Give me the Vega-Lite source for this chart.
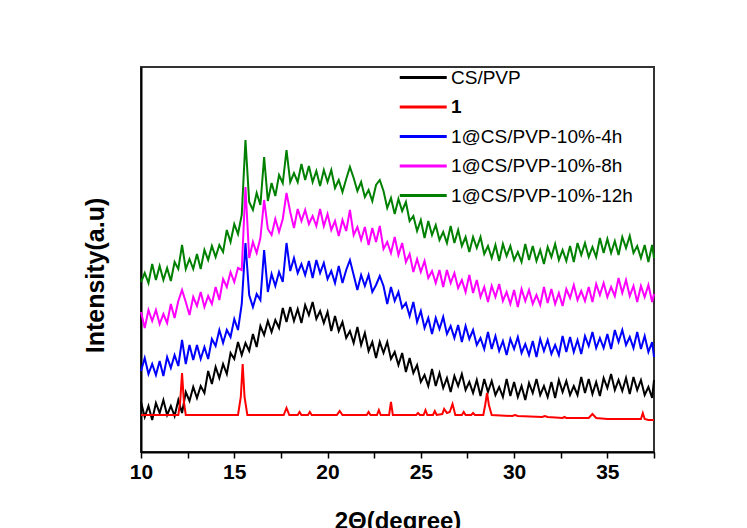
{
  "$schema": "https://vega.github.io/schema/vega-lite/v6.json",
  "width": 513,
  "height": 385,
  "autosize": "none",
  "padding": {"left": 141, "top": 67, "right": 93, "bottom": 76},
  "background": "white",
  "config": {"font": "Liberation Sans", "view": {"stroke": "#333333", "strokeWidth": 2}},
  "datasets": {
    "noisy": [
      {"x":10,"k":50,"b":81,"m":140,"g":170},
      {"x":10.2,"k":35,"b":94,"m":124,"g":179},
      {"x":10.4,"k":46,"b":78,"m":142,"g":169},
      {"x":10.6,"k":32,"b":88,"m":131,"g":188},
      {"x":10.8,"k":49,"b":77,"m":142,"g":172},
      {"x":11,"k":39,"b":91,"m":128,"g":186},
      {"x":11.2,"k":52,"b":76,"m":138,"g":172},
      {"x":11.4,"k":37,"b":95,"m":129,"g":184},
      {"x":11.6,"k":46,"b":84,"m":148,"g":171},
      {"x":11.8,"k":36,"b":97,"m":134,"g":190},
      {"x":12,"k":52,"b":86,"m":151,"g":183},
      {"x":12.2,"k":39,"b":112,"m":162,"g":207},
      {"x":12.4,"k":60,"b":88,"m":150,"g":183},
      {"x":12.6,"k":51,"b":107,"m":137,"g":193},
      {"x":12.8,"k":65,"b":92,"m":155,"g":183},
      {"x":13,"k":54,"b":107,"m":146,"g":198},
      {"x":13.2,"k":66,"b":93,"m":160,"g":183},
      {"x":13.4,"k":59,"b":105,"m":145,"g":202},
      {"x":13.6,"k":81,"b":93,"m":156,"g":192},
      {"x":13.8,"k":68,"b":113,"m":148,"g":206},
      {"x":14,"k":85,"b":106,"m":165,"g":195},
      {"x":14.2,"k":74,"b":122,"m":152,"g":207},
      {"x":14.4,"k":88,"b":109,"m":173,"g":200},
      {"x":14.6,"k":78,"b":122,"m":165,"g":222},
      {"x":14.8,"k":99,"b":115,"m":180,"g":210},
      {"x":15,"k":93,"b":133,"m":170,"g":228},
      {"x":15.2,"k":110,"b":122,"m":184,"g":218},
      {"x":15.4,"k":97,"b":148,"m":182,"g":237},
      {"x":15.6,"k":109,"b":209,"m":265,"g":312},
      {"x":15.8,"k":101,"b":157,"m":194,"g":250},
      {"x":16,"k":118,"b":145,"m":210,"g":242},
      {"x":16.2,"k":105,"b":158,"m":199,"g":259},
      {"x":16.4,"k":126,"b":152,"m":214,"g":247},
      {"x":16.6,"k":117,"b":202,"m":252,"g":295},
      {"x":16.8,"k":131,"b":160,"m":223,"g":251},
      {"x":17,"k":120,"b":178,"m":217,"g":269},
      {"x":17.2,"k":132,"b":166,"m":233,"g":256},
      {"x":17.4,"k":124,"b":180,"m":220,"g":277},
      {"x":17.6,"k":144,"b":170,"m":233,"g":269},
      {"x":17.8,"k":130,"b":209,"m":259,"g":302},
      {"x":18,"k":145,"b":181,"m":240,"g":270},
      {"x":18.2,"k":131,"b":194,"m":224,"g":279},
      {"x":18.4,"k":143,"b":179,"m":243,"g":270},
      {"x":18.6,"k":129,"b":188,"m":231,"g":288},
      {"x":18.8,"k":147,"b":177,"m":242,"g":272},
      {"x":19,"k":137,"b":191,"m":228,"g":286},
      {"x":19.2,"k":150,"b":174,"m":236,"g":270},
      {"x":19.4,"k":133,"b":192,"m":226,"g":281},
      {"x":19.6,"k":141,"b":179,"m":243,"g":266},
      {"x":19.8,"k":129,"b":189,"m":226,"g":282},
      {"x":20,"k":140,"b":173,"m":238,"g":270},
      {"x":20.2,"k":121,"b":181,"m":222,"g":282},
      {"x":20.4,"k":136,"b":169,"m":231,"g":264},
      {"x":20.6,"k":121,"b":186,"m":216,"g":272},
      {"x":20.8,"k":130,"b":169,"m":232,"g":260},
      {"x":21,"k":114,"b":182,"m":221,"g":273},
      {"x":21.2,"k":121,"b":192,"m":242,"g":285},
      {"x":21.4,"k":109,"b":177,"m":217,"g":274},
      {"x":21.6,"k":125,"b":162,"m":225,"g":261},
      {"x":21.8,"k":107,"b":177,"m":212,"g":270},
      {"x":22,"k":119,"b":166,"m":225,"g":255},
      {"x":22.2,"k":101,"b":177,"m":207,"g":262},
      {"x":22.4,"k":110,"b":160,"m":224,"g":251},
      {"x":22.6,"k":94,"b":167,"m":210,"g":267},
      {"x":22.8,"k":110,"b":176,"m":226,"g":272},
      {"x":23,"k":99,"b":166,"m":203,"g":261},
      {"x":23.2,"k":110,"b":148,"m":210,"g":244},
      {"x":23.4,"k":93,"b":165,"m":199,"g":254},
      {"x":23.6,"k":100,"b":151,"m":215,"g":238},
      {"x":23.8,"k":87,"b":160,"m":197,"g":253},
      {"x":24,"k":99,"b":144,"m":209,"g":241},
      {"x":24.2,"k":80,"b":149,"m":190,"g":250},
      {"x":24.4,"k":94,"b":136,"m":198,"g":231},
      {"x":24.6,"k":79,"b":150,"m":180,"g":236},
      {"x":24.8,"k":87,"b":130,"m":193,"g":221},
      {"x":25,"k":70,"b":141,"m":180,"g":232},
      {"x":25.2,"k":77,"b":124,"m":191,"g":214},
      {"x":25.4,"k":66,"b":134,"m":174,"g":231},
      {"x":25.6,"k":83,"b":118,"m":181,"g":217},
      {"x":25.8,"k":66,"b":134,"m":169,"g":227},
      {"x":26,"k":79,"b":123,"m":182,"g":212},
      {"x":26.2,"k":64,"b":135,"m":165,"g":220},
      {"x":26.4,"k":74,"b":118,"m":182,"g":209},
      {"x":26.6,"k":60,"b":126,"m":169,"g":226},
      {"x":26.8,"k":76,"b":114,"m":179,"g":209},
      {"x":27,"k":66,"b":127,"m":164,"g":222},
      {"x":27.2,"k":78,"b":110,"m":172,"g":206},
      {"x":27.4,"k":62,"b":126,"m":160,"g":215},
      {"x":27.6,"k":70,"b":113,"m":177,"g":200},
      {"x":27.8,"k":59,"b":122,"m":159,"g":215},
      {"x":28,"k":72,"b":107,"m":172,"g":204},
      {"x":28.2,"k":56,"b":114,"m":155,"g":215},
      {"x":28.4,"k":73,"b":103,"m":165,"g":198},
      {"x":28.6,"k":60,"b":120,"m":150,"g":206},
      {"x":28.8,"k":71,"b":103,"m":166,"g":194},
      {"x":29,"k":57,"b":116,"m":155,"g":207},
      {"x":29.2,"k":65,"b":101,"m":168,"g":191},
      {"x":29.4,"k":55,"b":111,"m":151,"g":208},
      {"x":29.6,"k":73,"b":97,"m":160,"g":196},
      {"x":29.8,"k":56,"b":113,"m":148,"g":206},
      {"x":30,"k":70,"b":103,"m":162,"g":192},
      {"x":30.2,"k":55,"b":115,"m":145,"g":200},
      {"x":30.4,"k":66,"b":99,"m":163,"g":190},
      {"x":30.6,"k":52,"b":108,"m":151,"g":208},
      {"x":30.8,"k":69,"b":97,"m":162,"g":192},
      {"x":31,"k":59,"b":111,"m":148,"g":206},
      {"x":31.2,"k":73,"b":95,"m":157,"g":191},
      {"x":31.4,"k":57,"b":113,"m":147,"g":202},
      {"x":31.6,"k":66,"b":101,"m":165,"g":188},
      {"x":31.8,"k":55,"b":112,"m":149,"g":205},
      {"x":32,"k":70,"b":98,"m":163,"g":195},
      {"x":32.2,"k":54,"b":107,"m":148,"g":208},
      {"x":32.4,"k":72,"b":97,"m":159,"g":192},
      {"x":32.6,"k":60,"b":116,"m":146,"g":202},
      {"x":32.8,"k":71,"b":100,"m":163,"g":191},
      {"x":33,"k":57,"b":115,"m":154,"g":206},
      {"x":33.2,"k":66,"b":100,"m":167,"g":190},
      {"x":33.4,"k":57,"b":112,"m":152,"g":209},
      {"x":33.6,"k":75,"b":98,"m":161,"g":197},
      {"x":33.8,"k":59,"b":116,"m":151,"g":209},
      {"x":34,"k":73,"b":106,"m":165,"g":195},
      {"x":34.2,"k":58,"b":120,"m":150,"g":205},
      {"x":34.4,"k":70,"b":104,"m":168,"g":195},
      {"x":34.6,"k":56,"b":114,"m":157,"g":214},
      {"x":34.8,"k":74,"b":104,"m":169,"g":199},
      {"x":35,"k":64,"b":118,"m":155,"g":213},
      {"x":35.2,"k":78,"b":103,"m":165,"g":199},
      {"x":35.4,"k":62,"b":122,"m":156,"g":211},
      {"x":35.6,"k":72,"b":110,"m":174,"g":197},
      {"x":35.8,"k":61,"b":122,"m":159,"g":215},
      {"x":36,"k":74,"b":107,"m":172,"g":204},
      {"x":36.2,"k":58,"b":115,"m":156,"g":216},
      {"x":36.4,"k":75,"b":104,"m":166,"g":199},
      {"x":36.6,"k":62,"b":120,"m":150,"g":206},
      {"x":36.8,"k":72,"b":103,"m":166,"g":194},
      {"x":37,"k":57,"b":116,"m":155,"g":207},
      {"x":37.2,"k":65,"b":100,"m":167,"g":190},
      {"x":37.4,"k":54,"b":110,"m":150,"g":207},
      {"x":37.5,"k":72,"b":95,"m":158,"g":194}
    ],
    "red": [
      {"s":"r","x":10,"y":37},{"s":"r","x":12,"y":37},{"s":"r","x":12.1,"y":50},{"s":"r","x":12.2,"y":79},{"s":"r","x":12.3,"y":50},{"s":"r","x":12.4,"y":37},
      {"s":"r","x":15.2,"y":37},{"s":"r","x":15.35,"y":55},{"s":"r","x":15.45,"y":88},{"s":"r","x":15.55,"y":55},{"s":"r","x":15.7,"y":37},
      {"s":"r","x":17.65,"y":37},{"s":"r","x":17.8,"y":44},{"s":"r","x":17.95,"y":37},
      {"s":"r","x":18.4,"y":37},{"s":"r","x":18.5,"y":40},{"s":"r","x":18.6,"y":37},
      {"s":"r","x":18.95,"y":37},{"s":"r","x":19.05,"y":40},{"s":"r","x":19.15,"y":37},
      {"s":"r","x":20.5,"y":37},{"s":"r","x":20.65,"y":41},{"s":"r","x":20.8,"y":37},
      {"s":"r","x":22.1,"y":37},{"s":"r","x":22.2,"y":40},{"s":"r","x":22.3,"y":37},
      {"s":"r","x":22.65,"y":37},{"s":"r","x":22.75,"y":42},{"s":"r","x":22.85,"y":37},
      {"s":"r","x":23.3,"y":37},{"s":"r","x":23.4,"y":50},{"s":"r","x":23.5,"y":37},
      {"s":"r","x":24.75,"y":37},{"s":"r","x":24.85,"y":39},{"s":"r","x":24.95,"y":37},
      {"s":"r","x":25.15,"y":37},{"s":"r","x":25.25,"y":42},{"s":"r","x":25.35,"y":37},
      {"s":"r","x":25.65,"y":37},{"s":"r","x":25.75,"y":41},{"s":"r","x":25.85,"y":37},
      {"s":"r","x":26.15,"y":38},{"s":"r","x":26.25,"y":43},{"s":"r","x":26.4,"y":39},{"s":"r","x":26.55,"y":40},{"s":"r","x":26.7,"y":48},{"s":"r","x":26.85,"y":37},
      {"s":"r","x":27.2,"y":37},{"s":"r","x":27.3,"y":40},{"s":"r","x":27.4,"y":37},
      {"s":"r","x":27.7,"y":37},{"s":"r","x":27.8,"y":39},{"s":"r","x":27.9,"y":37},
      {"s":"r","x":28.35,"y":37},{"s":"r","x":28.45,"y":47},{"s":"r","x":28.55,"y":59},{"s":"r","x":28.65,"y":47},{"s":"r","x":28.8,"y":37},
      {"s":"r","x":29.9,"y":36},{"s":"r","x":30.05,"y":37},{"s":"r","x":30.2,"y":36},
      {"s":"r","x":31.5,"y":35},{"s":"r","x":31.65,"y":36},{"s":"r","x":31.8,"y":35},
      {"s":"r","x":32.6,"y":34},{"s":"r","x":32.7,"y":35},{"s":"r","x":32.8,"y":34},
      {"s":"r","x":34,"y":34},{"s":"r","x":34.2,"y":38},{"s":"r","x":34.4,"y":34},
      {"s":"r","x":35,"y":33},{"s":"r","x":36.8,"y":33},{"s":"r","x":36.9,"y":39},{"s":"r","x":37,"y":33},{"s":"r","x":37.2,"y":32},{"s":"r","x":37.5,"y":32}
    ]
  },
  "encoding": {
    "x": {
      "field": "x", "type": "quantitative",
      "scale": {"domain": [10, 37.5], "nice": false, "zero": false},
      "axis": {
        "title": "2Θ(degree)",
        "values": [10, 12.5, 15, 17.5, 20, 22.5, 25, 27.5, 30, 32.5, 35, 37.5],
        "labelExpr": "datum.value % 5 == 0 ? datum.label : ''",
        "labelFlush": false, "labelOverlap": false,
        "labelFontSize": 21, "labelFontWeight": "bold", "labelColor": "#000000", "labelPadding": 3,
        "tickColor": "#000000", "tickSize": 6, "tickWidth": 1.5,
        "domainColor": "#000000", "domainWidth": 2, "grid": false,
        "titleFontSize": 24, "titleFontWeight": "bold", "titleColor": "#000000",
        "titleBaseline": "alphabetic", "titleY": 76, "titleX": 256.5, "titleAlign": "center"
      }
    },
    "y": {
      "field": "y", "type": "quantitative",
      "scale": {"domain": [0, 385], "nice": false},
      "axis": {
        "title": "Intensity(a.u)", "labels": false, "ticks": false, "grid": false,
        "domainColor": "#000000", "domainWidth": 2,
        "titleFontSize": 25, "titleFontWeight": "bold", "titleColor": "#000000",
        "titleAngle": 270, "titleBaseline": "alphabetic", "titleAlign": "center",
        "titleX": -38, "titleY": 208
      }
    },
    "color": {
      "field": "s", "type": "nominal",
      "scale": {"domain": ["k", "r", "b", "m", "g"], "range": ["#000000", "#ff0000", "#0000ff", "#ff00ff", "#008000"]},
      "legend": {
        "orient": "none", "legendX": 257, "legendY": -3, "title": null, "padding": 0,
        "symbolType": "M-1,0L3,0", "symbolSize": 552, "symbolStrokeWidth": 3,
        "labelFontSize": 19, "labelColor": "#000000", "labelOffset": 26, "rowPadding": 5.5, "labelLimit": 0,
        "labelFontWeight": {"expr": "datum.value == 'r' ? 'bold' : 'normal'"},
        "labelExpr": "datum.label == 'k' ? 'CS/PVP' : datum.label == 'r' ? '1' : datum.label == 'b' ? '1@CS/PVP-10%-4h' : datum.label == 'm' ? '1@CS/PVP-10%-8h' : '1@CS/PVP-10%-12h'"
      }
    }
  },
  "layer": [
    {
      "data": {"name": "noisy"},
      "transform": [{"fold": ["k", "b", "m", "g"], "as": ["s", "y"]}],
      "mark": {"type": "line", "strokeWidth": 2}
    },
    {
      "data": {"name": "red"},
      "mark": {"type": "line", "strokeWidth": 2}
    }
  ]
}
